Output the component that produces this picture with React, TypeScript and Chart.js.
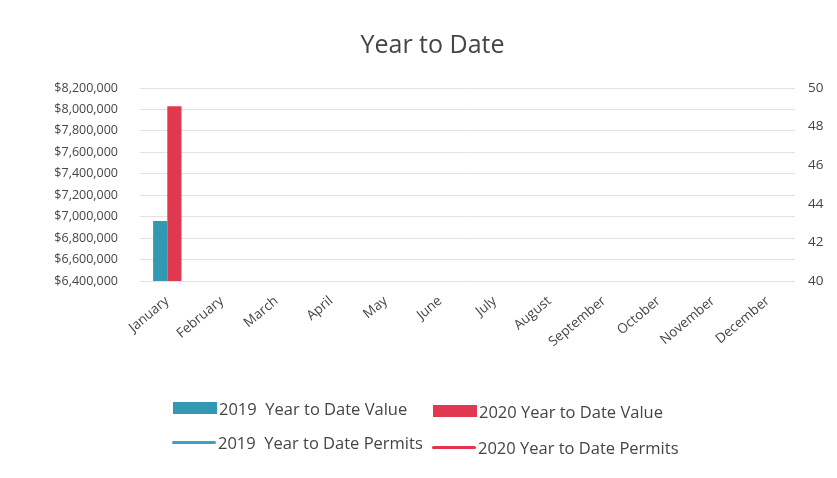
import React, { useEffect, useRef } from "react";
import { Chart, registerables } from "chart.js";

Chart.register(...registerables);

const months = [
  "January", "February", "March", "April", "May", "June",
  "July", "August", "September", "October", "November", "December",
];
const value2019 = [6960000, null, null, null, null, null, null, null, null, null, null, null];
const value2020 = [8030000, null, null, null, null, null, null, null, null, null, null, null];
const permits2019 = [43, null, null, null, null, null, null, null, null, null, null, null];
const permits2020 = [48, null, null, null, null, null, null, null, null, null, null, null];
const leftMin = 6400000;
const leftMax = 8200000;
const leftStep = 200000;
const rightMin = 40;
const rightMax = 50;
const rightStep = 2;

const TEAL = "#3398b2";
const RED = "#e0394f";
const LINE_BLUE = "#3aa2c6";
const LINE_RED = "#e2324c";
const TEXT = "#454545";
const FONT = "'Open Sans', sans-serif";

const legendItems = [
  { label: "2019  Year to Date Value", color: TEAL, kind: "box", x: 173, y: 408 },
  { label: "2020 Year to Date Value", color: RED, kind: "box", x: 433, y: 411 },
  { label: "2019  Year to Date Permits", color: LINE_BLUE, kind: "line", x: 172, y: 442 },
  { label: "2020 Year to Date Permits", color: LINE_RED, kind: "line", x: 432, y: 447 },
];

export default function App() {
  const ref = useRef<HTMLCanvasElement | null>(null);

  useEffect(() => {
    if (!ref.current) return;
    const chart = new Chart(ref.current, {
      type: "bar",
      data: {
        labels: months,
        datasets: [
          {
            type: "bar",
            label: "2019  Year to Date Value",
            data: value2019,
            backgroundColor: TEAL,
            yAxisID: "y",
            barPercentage: 1,
            categoryPercentage: 0.52,
            order: 2,
          },
          {
            type: "bar",
            label: "2020 Year to Date Value",
            data: value2020,
            backgroundColor: RED,
            yAxisID: "y",
            barPercentage: 1,
            categoryPercentage: 0.52,
            order: 2,
          },
          {
            type: "line",
            label: "2019  Year to Date Permits",
            data: permits2019,
            borderColor: LINE_BLUE,
            backgroundColor: LINE_BLUE,
            borderWidth: 3,
            pointRadius: 0,
            yAxisID: "y1",
            order: 1,
          },
          {
            type: "line",
            label: "2020 Year to Date Permits",
            data: permits2020,
            borderColor: LINE_RED,
            backgroundColor: LINE_RED,
            borderWidth: 3,
            pointRadius: 0,
            yAxisID: "y1",
            order: 1,
          },
        ] as any,
      },
      options: {
        animation: false,
        responsive: false,
        maintainAspectRatio: false,
        layout: { padding: { left: 28, right: 0, top: 0, bottom: 0 } },
        plugins: {
          legend: { display: false },
          tooltip: { enabled: false },
          title: {
            display: true,
            text: "Year to Date",
            color: TEXT,
            font: { family: FONT, size: 25, weight: "normal" as any },
            padding: { top: 31, bottom: 27 },
          },
        },
        scales: {
          x: {
            grid: { display: false },
            border: { display: false },
            ticks: {
              color: TEXT,
              font: { family: FONT, size: 13.5 },
              minRotation: 40,
              maxRotation: 40,
              padding: 4,
              autoSkip: false,
            },
            afterFit: (s: any) => {
              s.height = 197;
            },
          },
          y: {
            position: "left",
            min: leftMin,
            max: leftMax,
            grid: { color: "#e2e2e2", drawTicks: false, lineWidth: 1 },
            border: { display: false },
            ticks: {
              stepSize: leftStep,
              color: TEXT,
              padding: 22,
              font: { family: FONT, size: 12.5 },
              callback: (v: any) => "$" + Number(v).toLocaleString("en-US"),
            },
            afterFit: (s: any) => {
              s.width = 112;
            },
          },
          y1: {
            position: "right",
            min: rightMin,
            max: rightMax,
            grid: { display: false, drawTicks: false },
            border: { display: false },
            ticks: {
              stepSize: rightStep,
              color: TEXT,
              padding: 13,
              font: { family: FONT, size: 13.5 },
            },
            afterFit: (s: any) => {
              s.width = 42;
            },
          },
        },
      },
    });
    return () => chart.destroy();
  }, []);

  return (
    <div
      style={{
        position: "absolute",
        left: 0,
        top: 0,
        width: 837,
        height: 478,
        background: "#fff",
        overflow: "hidden",
      }}
    >
      <canvas ref={ref} width={837} height={478} style={{ display: "block" }} />
      {legendItems.map((it) => (
        <div
          key={it.label}
          style={{
            position: "absolute",
            left: it.x,
            top: it.y - 12,
            height: 24,
            display: "flex",
            alignItems: "center",
            fontFamily: FONT,
            fontSize: 16.5,
            color: TEXT,
            whiteSpace: "pre",
          }}
        >
          <span
            style={{
              display: "inline-block",
              width: 44,
              height: it.kind === "box" ? 12 : 3,
              background: it.color,
              borderRadius: it.kind === "line" ? 2 : 0,
              marginRight: 2,
            }}
          />
          <span>{it.label}</span>
        </div>
      ))}
    </div>
  );
}
